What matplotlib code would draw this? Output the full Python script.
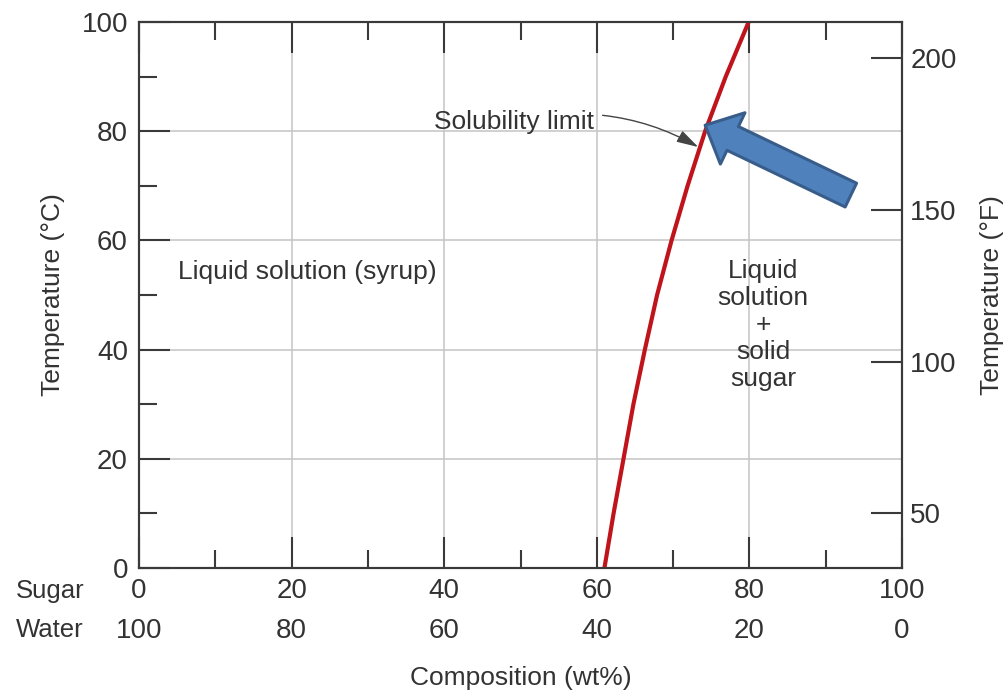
import matplotlib
matplotlib.use("Agg")
import matplotlib.pyplot as plt
from matplotlib.patches import FancyArrowPatch

plt.rcParams['font.family'] = ['Liberation Sans', 'DejaVu Sans']

# Solubility limit of sugar in water
temp_c = [0, 10, 20, 30, 40, 50, 60, 70, 80, 90, 100]
sugar_wt = [61.0, 62.2, 63.5, 64.8, 66.3, 67.9, 69.8, 71.9, 74.2, 76.9, 79.9]

sugar_ticks = [0, 20, 40, 60, 80, 100]
water_ticks = [100, 80, 60, 40, 20, 0]
temp_c_ticks = [0, 20, 40, 60, 80, 100]
temp_f_ticks = [50, 100, 150, 200]

TXT = '#333333'
SP = '#3a3a3a'
FS = 19
TFS = 20

fig = plt.figure(figsize=(10.07, 6.91), dpi=100)
ax = fig.add_axes([139/1007, 1-568/691, (902-139)/1007, (568-22)/691])

ax.plot(sugar_wt, temp_c, color='#c0141c', lw=3.0, solid_capstyle='butt',
        solid_joinstyle='round', zorder=3, clip_on=False)

ax.set_xlim(0, 100)
ax.set_ylim(0, 100)
ax.set_xticks(sugar_ticks)
ax.set_xticks([10, 30, 50, 70, 90], minor=True)
ax.set_yticks(temp_c_ticks)
ax.set_yticks([10, 30, 50, 70, 90], minor=True)

ax.tick_params(which='both', direction='in', top=True, right=False, color=SP,
               width=1.5, labelcolor=TXT, labelsize=TFS)
ax.tick_params(which='major', length=22)
ax.tick_params(which='minor', length=13)
ax.tick_params(axis='y', pad=8)
ax.tick_params(axis='x', pad=7)

ax.grid(True, which='major', color='#c8c8c8', lw=1.2, zorder=0)
ax.set_axisbelow(True)
for s in ax.spines.values():
    s.set_color(SP)
    s.set_linewidth(1.5)

# water row (complement of sugar)
secx = ax.secondary_xaxis('bottom', functions=(lambda x: 100 - x, lambda x: 100 - x))
secx.set_xticks(water_ticks)
secx.tick_params(length=0, pad=36, labelsize=TFS, labelcolor=TXT)
secx.spines['bottom'].set_visible(False)
secx.set_xlabel('Composition (wt%)', fontsize=FS, color=TXT, labelpad=16)

ax.set_ylabel('Temperature (°C)', fontsize=FS, color=TXT, labelpad=12)

# right axis in Fahrenheit
ax2 = ax.twinx()
ax2.set_ylim(0 * 9 / 5 + 32, 100 * 9 / 5 + 32)
ax2.set_yticks(temp_f_ticks)
ax2.tick_params(direction='in', length=22, width=1.5, color=SP, labelcolor=TXT,
                labelsize=TFS, pad=6)
ax2.set_ylabel('Temperature (°F)', fontsize=FS, color=TXT, labelpad=17)
for s in ax2.spines.values():
    s.set_color(SP)
    s.set_linewidth(1.5)

# row labels
fig.text(16/1007, 1-591/691, 'Sugar', fontsize=18.5, color=TXT, ha='left', va='center')
fig.text(16/1007, 1-630/691, 'Water', fontsize=18.5, color=TXT, ha='left', va='center')

# region labels
ax.text(5.1, 54.2, 'Liquid solution (syrup)', fontsize=FS, color=TXT, ha='left', va='center')
ax.text(81.8, 44.5, 'Liquid\nsolution\n+\nsolid\nsugar', fontsize=FS, color=TXT,
        ha='center', va='center', linespacing=1.17)

ax.annotate('Solubility limit', xy=(73.3, 77.1), xytext=(38.7, 81.7), fontsize=FS,
            color=TXT, ha='left', va='center',
            arrowprops=dict(arrowstyle='-|>,head_length=0.7,head_width=0.2', color='#444444',
                            lw=1.0, shrinkA=4, shrinkB=0,
                            connectionstyle='arc3,rad=-0.2'))

# big blue block arrow
big = FancyArrowPatch(posA=(93.3, 68.3), posB=(74.2, 81.1),
                      arrowstyle='simple,head_length=22,head_width=41,tail_width=19',
                      mutation_scale=1, shrinkA=0, shrinkB=0,
                      fc='#4f81bd', ec='#385d8a', lw=2.2, zorder=5, clip_on=False)
ax.add_patch(big)

fig.savefig('out.png', dpi=100)
